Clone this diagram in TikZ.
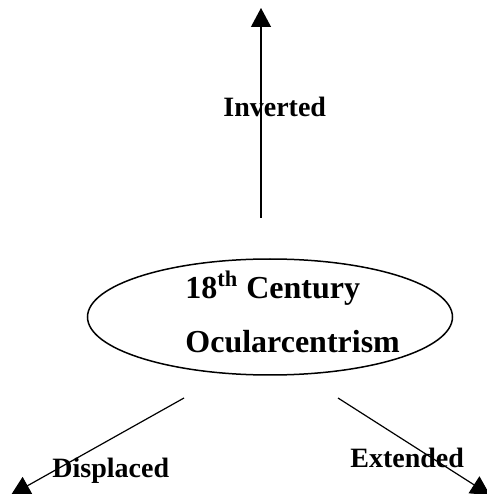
\documentclass[tikz,border=0pt]{standalone}
\usepackage{fontspec}
\setmainfont{Liberation Serif}
\usetikzlibrary{arrows.meta,shapes.geometric}

\begin{document}
\begin{tikzpicture}[x=0.5pt,y=0.5pt,
	arr/.style={-{Triangle[width=10pt,length=9.5pt]},line width=0.6pt},
	lbl/.style={font=\fontsize{14}{17}\selectfont\bfseries,anchor=base west,inner sep=0pt},
	core/.style={font=\fontsize{16}{20}\selectfont\bfseries,anchor=base west,inner sep=0pt}]

\useasboundingbox (0,0) rectangle (487,494);

\node[draw,ellipse,line width=0.75pt,minimum width=182.5pt,minimum height=58pt,inner sep=0pt] (oval) at (270,177) {};
\node[core] (coretop) at (185,195) {18\textsuperscript{th} Century};
\node[core] (corebot) at (185,141) {Ocularcentrism};

\coordinate (upS) at (261,276);
\coordinate (upT) at (261,486);
\coordinate (leftS) at (184,96);
\coordinate (leftT) at (11,-1);
\coordinate (rightS) at (338,96);
\coordinate (rightT) at (490,-1);

\draw[arr] (upS) -- (upT);
\draw[arr] (leftS) -- (leftT);
\draw[arr] (rightS) -- (rightT);

\node[lbl] (inv) at (223,378) {Inverted};
\node[lbl] (disp) at (52,17) {Displaced};
\node[lbl] (ext) at (350,26) {Extended};

\end{tikzpicture}
\end{document}
